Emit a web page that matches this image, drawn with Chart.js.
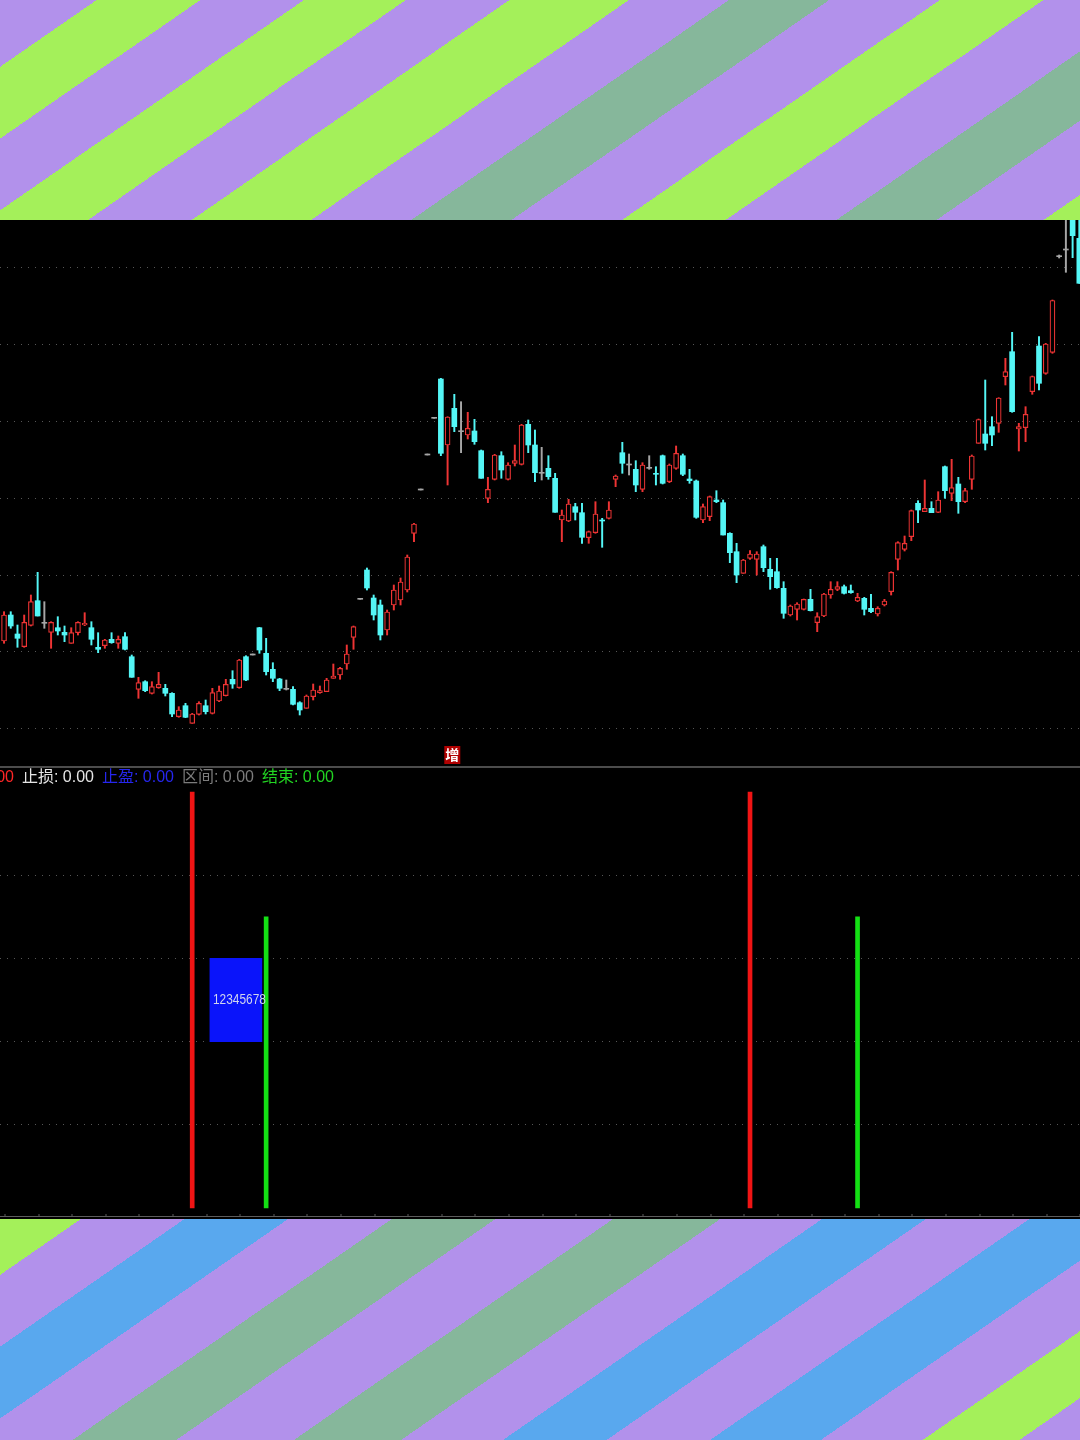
<!DOCTYPE html>
<html>
<head>
<meta charset="utf-8">
<script src="https://cdn.jsdelivr.net/npm/chart.js@4.4.0/dist/chart.umd.min.js"></script>
<style>
html, body { margin: 0; padding: 0; background: #000; }
#page { position: relative; width: 1080px; height: 1440px; overflow: hidden; background: #000; }
.stripes { position: absolute; left: 0; width: 1080px; }
#stripeTop {
    top: 0; height: 220px;
    background: linear-gradient(145.3deg,
        #b291eb 0 55px, #a4f05a 55px 114px, #b291eb 114px 173px, #a4f05a 173px 231px,
        #b291eb 231px 290px, #a4f05a 290px 358px, #b291eb 358px 415px, #86b79b 415px 472px,
        #b291eb 472px 535px, #a4f05a 535px 594px, #b291eb 594px 657px, #86b79b 657px 714px,
        #b291eb 714px 775px, #a4f05a 775px 800px);
}
#stripeBottom {
    top: 1219px; height: 221px;
    background: linear-gradient(145.3deg,
        #a4f05a 0 46px, #b291eb 46px 105px, #59a8ee 105px 164px, #b291eb 164px 223px,
        #86b79b 223px 282px, #b291eb 282px 349px, #86b79b 349px 410px, #b291eb 410px 468px,
        #59a8ee 468px 527px, #b291eb 527px 586px, #59a8ee 586px 649px, #b291eb 649px 707px,
        #a4f05a 707px 762px, #b291eb 762px 800px);
}
#upper { position: absolute; left: 0; top: 220px; }
#lower { position: absolute; left: 0; top: 766px; }
</style>
</head>
<body>
<div id="page">
    <div class="stripes" id="stripeTop"></div>
    <canvas id="upper" width="1080" height="545"></canvas>
    <canvas id="lower" width="1080" height="452"></canvas>
    <div class="stripes" id="stripeBottom"></div>
</div>
<script>
// daily bars
const opens = [
    15.90, 18.50, 16.60, 15.33, 17.47, 19.93, 17.67, 16.77, 17.23, 16.77,
    15.67, 16.73, 17.50, 17.23, 15.27, 15.43, 16.07, 15.67, 16.33, 14.33,
    11.07, 11.83, 10.67, 11.23, 11.17, 10.67, 8.33, 9.43, 7.67, 8.57,
    9.43, 8.67, 9.90, 10.43, 12.07, 11.23, 14.33, 14.50, 17.23, 14.67,
    13.07, 12.10, 11.07, 11.07, 9.73, 9.17, 10.33, 10.73, 10.83, 12.17,
    12.50, 13.60, 16.27, 20.07, 23.00, 20.20, 19.50, 17.00, 19.50, 20.00,
    21.00, 26.67, 31.00, 34.50, 38.17, 42.10, 35.50, 39.17, 36.83, 36.50,
    36.90, 34.93, 30.17, 32.07, 34.43, 32.07, 33.67, 33.57, 37.57, 35.50,
    32.67, 33.17, 32.17, 28.00, 27.90, 29.33, 28.73, 26.23, 26.73, 28.00,
    28.17, 32.07, 34.73, 33.50, 33.07, 31.07, 33.17, 32.67, 34.43, 31.83,
    33.17, 34.43, 32.10, 31.90, 28.00, 28.33, 30.00, 29.73, 26.67, 24.83,
    22.67, 24.17, 24.07, 25.33, 23.07, 22.83, 21.17, 18.50, 19.07, 19.07,
    20.07, 17.73, 18.40, 20.50, 21.07, 21.33, 20.93, 19.90, 20.17, 19.17,
    18.60, 19.50, 20.83, 24.07, 25.07, 26.33, 29.67, 28.83, 29.17, 28.77,
    33.33, 30.67, 31.60, 29.83, 32.07, 35.67, 36.60, 37.33, 37.67, 42.33,
    44.83, 37.10, 37.23, 40.83, 45.40, 42.67, 44.77, 54.33, 55.00, 60.00,
    56.17
];
const highs = [
    18.83, 18.83, 17.50, 18.50, 20.50, 22.77, 19.83, 17.83, 18.33, 17.40,
    17.23, 17.83, 18.73, 17.83, 16.73, 16.07, 16.73, 16.40, 16.73, 14.50,
    12.27, 11.93, 11.83, 12.77, 11.57, 10.73, 9.33, 9.67, 8.67, 9.83,
    10.00, 11.17, 11.40, 12.07, 12.93, 14.07, 14.43, 14.50, 17.27, 16.17,
    13.73, 12.17, 12.00, 11.33, 9.83, 10.50, 11.60, 11.40, 12.17, 13.60,
    13.27, 15.50, 17.40, 20.07, 23.20, 20.50, 20.00, 19.00, 21.50, 22.20,
    24.50, 27.67, 31.00, 34.50, 38.17, 42.17, 38.33, 40.57, 39.83, 38.77,
    38.07, 35.00, 32.27, 34.57, 34.83, 33.73, 35.50, 37.57, 38.00, 37.00,
    35.27, 34.43, 32.67, 29.00, 30.07, 29.67, 29.67, 26.90, 29.83, 28.17,
    29.83, 32.50, 35.77, 34.60, 33.93, 33.73, 34.43, 33.33, 34.50, 33.60,
    35.40, 34.60, 33.07, 32.00, 29.60, 30.40, 30.93, 30.00, 26.73, 25.67,
    24.07, 24.93, 24.83, 25.50, 24.17, 24.17, 21.83, 19.50, 19.73, 20.10,
    21.07, 18.73, 20.67, 21.83, 21.83, 21.50, 21.50, 20.67, 20.27, 20.57,
    19.33, 20.07, 22.83, 25.83, 26.40, 29.00, 29.93, 32.00, 29.83, 30.83,
    33.40, 34.07, 32.27, 31.17, 34.50, 38.10, 42.00, 38.33, 40.23, 44.17,
    46.77, 37.67, 39.33, 42.40, 46.33, 45.67, 50.00, 54.50, 60.00, 60.00,
    60.00
];
const lows = [
    15.67, 17.17, 15.27, 15.27, 17.40, 18.40, 17.17, 15.17, 16.50, 15.83,
    15.67, 16.50, 17.43, 15.50, 14.73, 15.17, 15.67, 15.17, 15.00, 12.27,
    10.17, 10.83, 10.60, 11.17, 10.40, 8.33, 8.27, 8.23, 7.67, 8.50,
    8.60, 8.60, 9.83, 10.40, 11.17, 11.17, 11.93, 14.50, 14.67, 12.50,
    11.83, 10.93, 11.00, 9.50, 8.50, 9.17, 10.00, 10.67, 10.83, 12.17,
    12.07, 13.07, 15.07, 20.07, 21.00, 18.00, 16.00, 16.50, 19.00, 19.50,
    20.80, 25.83, 31.00, 34.50, 38.17, 34.43, 31.50, 36.83, 34.73, 36.10,
    35.57, 32.17, 29.73, 32.00, 32.17, 32.00, 33.40, 33.50, 34.73, 31.83,
    32.00, 32.07, 28.77, 25.83, 27.83, 28.00, 25.67, 25.67, 26.67, 25.27,
    28.10, 31.33, 32.67, 32.50, 30.83, 30.83, 33.07, 31.50, 31.60, 31.73,
    33.07, 32.43, 31.67, 28.17, 27.73, 27.93, 29.73, 26.50, 23.73, 21.73,
    22.67, 24.07, 22.50, 22.83, 21.07, 21.17, 18.17, 18.40, 18.00, 19.00,
    18.90, 16.83, 18.33, 20.17, 20.93, 20.60, 20.67, 19.83, 18.50, 18.73,
    18.40, 19.40, 20.50, 23.00, 24.90, 25.93, 27.73, 28.83, 28.73, 28.73,
    30.17, 29.93, 28.67, 29.73, 31.07, 35.67, 35.00, 35.43, 36.77, 41.50,
    38.77, 34.90, 35.83, 40.57, 41.00, 42.57, 44.67, 54.20, 52.77, 54.23,
    51.67
];
const closes = [
    18.50, 17.40, 16.17, 17.77, 19.83, 18.40, 17.67, 17.77, 16.90, 16.50,
    16.73, 17.77, 17.67, 16.07, 15.07, 16.00, 15.73, 16.07, 15.07, 12.27,
    11.73, 10.93, 11.33, 11.57, 10.67, 8.60, 9.00, 8.27, 8.60, 9.67,
    8.83, 10.73, 10.90, 11.57, 11.60, 14.00, 12.00, 14.50, 15.00, 12.83,
    12.17, 11.17, 11.07, 9.57, 9.00, 10.40, 11.00, 10.93, 12.00, 12.40,
    13.17, 14.60, 17.33, 20.07, 21.20, 18.50, 16.50, 18.80, 21.00, 21.80,
    24.30, 27.60, 31.00, 34.50, 38.17, 34.67, 38.30, 37.33, 36.83, 37.17,
    35.83, 32.17, 31.07, 34.50, 33.00, 33.50, 33.93, 37.50, 35.50, 32.73,
    32.67, 32.33, 28.77, 28.50, 29.60, 28.77, 26.27, 26.83, 28.60, 27.90,
    29.00, 32.40, 33.67, 33.50, 31.50, 33.50, 33.17, 32.57, 31.67, 33.50,
    34.67, 32.57, 31.93, 28.27, 29.33, 30.33, 29.83, 26.50, 24.73, 22.50,
    24.00, 24.60, 24.60, 23.23, 22.33, 21.23, 18.67, 19.40, 19.60, 20.07,
    18.93, 18.33, 20.60, 21.07, 21.33, 20.67, 20.73, 20.27, 19.07, 18.83,
    19.17, 19.90, 22.77, 25.73, 25.67, 28.93, 29.00, 29.17, 28.73, 30.00,
    30.93, 31.23, 29.83, 30.93, 34.40, 38.05, 35.67, 36.50, 40.20, 42.83,
    38.83, 37.33, 38.57, 42.35, 41.67, 45.60, 49.95, 54.33, 55.00, 56.43,
    51.67
];
const gridPrices = [7.2, 14.9, 22.5, 30.2, 37.9, 45.6, 53.3];
const priceMin = 3.5;
const priceMax = 58.0;

// signal panel
const buyBars = [28, 111];
const exitBars = [39, 127];
const buyLevel = 100;
const exitLevel = 70;
const zoneCenter = 34.5;
const zoneRange = [40, 60];
const zoneText = "12345678";
const signalGrid = [20, 40, 60, 80];
const markBar = 66.7;
const markText = "增";
const statusLabels = ["买入: 0.00", "止损: 0.00", "止盈: 0.00", "区间: 0.00", "结束: 0.00"];
const statusColors = ["#ff2626", "#e4e4e4", "#2626ee", "#7c7c7c", "#22d422"];

const RED = "#ee3434";
const CYAN = "#54f6f6";
const GREY = "#a6a6a6";
const FONT = '"Liberation Sans", "Noto Sans CJK SC", sans-serif';

const idx = opens.map((_, i) => i);
const colorOf = (i) => (closes[i] > opens[i] ? RED : closes[i] < opens[i] ? CYAN : GREY);
const xAxis = { type: "linear", min: -0.6, max: 160.1, display: false, offset: false };

const markPlugin = {
    id: "mark",
    afterDatasetsDraw(chart) {
        const ctx = chart.ctx;
        const x = chart.scales.x.getPixelForValue(markBar);
        const y = chart.chartArea.bottom - 10;
        ctx.save();
        ctx.fillStyle = "#b00000";
        ctx.fillRect(x - 8, y - 9, 16, 18);
        ctx.fillStyle = "#ffffff";
        ctx.font = "bold 14px " + FONT;
        ctx.textAlign = "center";
        ctx.textBaseline = "middle";
        ctx.fillText(markText, x, y + 1);
        ctx.restore();
    },
};

new Chart(document.getElementById("upper"), {
    type: "bar",
    data: {
        datasets: [
            {
                label: "wick",
                data: idx.map((i) => ({ x: i, y: [lows[i], highs[i]] })),
                backgroundColor: idx.map(colorOf),
                barThickness: 1.3,
                minBarLength: 1,
                grouped: false,
                order: 2,
            },
            {
                label: "body",
                data: idx.map((i) => ({ x: i, y: [Math.min(opens[i], closes[i]), Math.max(opens[i], closes[i])] })),
                backgroundColor: idx.map((i) => (closes[i] > opens[i] ? "#000000" : colorOf(i))),
                borderColor: idx.map(colorOf),
                borderWidth: idx.map((i) => (closes[i] > opens[i] ? 1.2 : 0)),
                borderSkipped: false,
                barThickness: 5,
                minBarLength: 1,
                grouped: false,
                order: 1,
            },
        ],
    },
    options: {
        responsive: false,
        animation: false,
        events: [],
        layout: { padding: 0 },
        plugins: { legend: { display: false }, tooltip: { enabled: false } },
        scales: {
            x: xAxis,
            y: {
                min: priceMin,
                max: priceMax,
                afterFit: (s) => { s.width = 0; },
                afterBuildTicks: (s) => { s.ticks = gridPrices.map((v) => ({ value: v })); },
                ticks: { display: false },
                grid: { color: "#565656", drawTicks: false, lineWidth: 1 },
                border: { display: false, dash: [1, 6] },
            },
        },
    },
    plugins: [markPlugin],
});

const signalPlugin = {
    id: "signal",
    afterDatasetsDraw(chart) {
        const ctx = chart.ctx;
        const w = chart.width;
        const h = chart.height;
        ctx.save();
        // panel separator and bottom axis
        ctx.fillStyle = "#4c4c4c";
        ctx.fillRect(0, 0, w, 2);
        ctx.fillStyle = "#5c5c5c";
        ctx.fillRect(0, h - 2, w, 1);
        const xs = chart.scales.x;
        for (let i = 0; i <= 160; i += 5) {
            const px = Math.round(xs.getPixelForValue(i)) + 0.5;
            ctx.fillRect(px, h - 4, 1, 2);
        }
        // status line
        ctx.font = "16px " + FONT;
        ctx.textBaseline = "middle";
        ctx.textAlign = "right";
        statusLabels.forEach((t, k) => {
            ctx.fillStyle = statusColors[k];
            ctx.fillText(t, 14 + 80 * k, 12);
        });
        // zone label
        const box = chart.getDatasetMeta(0).data[0];
        ctx.font = "15px " + FONT;
        ctx.textAlign = "center";
        ctx.fillStyle = "#d0d4ee";
        ctx.fillText(zoneText, box.x + 3.5, (box.y + box.base) / 2, 53);
        ctx.restore();
    },
};

new Chart(document.getElementById("lower"), {
    type: "bar",
    data: {
        datasets: [
            {
                label: "zone",
                data: [{ x: zoneCenter, y: zoneRange }],
                backgroundColor: "#0a14fa",
                barThickness: 52,
                grouped: false,
                order: 3,
            },
            {
                label: "buy",
                data: buyBars.map((i) => ({ x: i, y: [0, buyLevel] })),
                backgroundColor: "#f01414",
                barThickness: 4,
                grouped: false,
                order: 2,
            },
            {
                label: "exit",
                data: exitBars.map((i) => ({ x: i, y: [0, exitLevel] })),
                backgroundColor: "#14e014",
                barThickness: 4,
                grouped: false,
                order: 1,
            },
        ],
    },
    options: {
        responsive: false,
        animation: false,
        events: [],
        layout: { padding: 0 },
        plugins: { legend: { display: false }, tooltip: { enabled: false } },
        scales: {
            x: xAxis,
            y: {
                min: -2.4,
                max: 106.25,
                afterFit: (s) => { s.width = 0; },
                afterBuildTicks: (s) => { s.ticks = signalGrid.map((v) => ({ value: v })); },
                ticks: { display: false },
                grid: { color: "#565656", drawTicks: false, lineWidth: 1 },
                border: { display: false, dash: [1, 6] },
            },
        },
    },
    plugins: [signalPlugin],
});
</script>
</body>
</html>
